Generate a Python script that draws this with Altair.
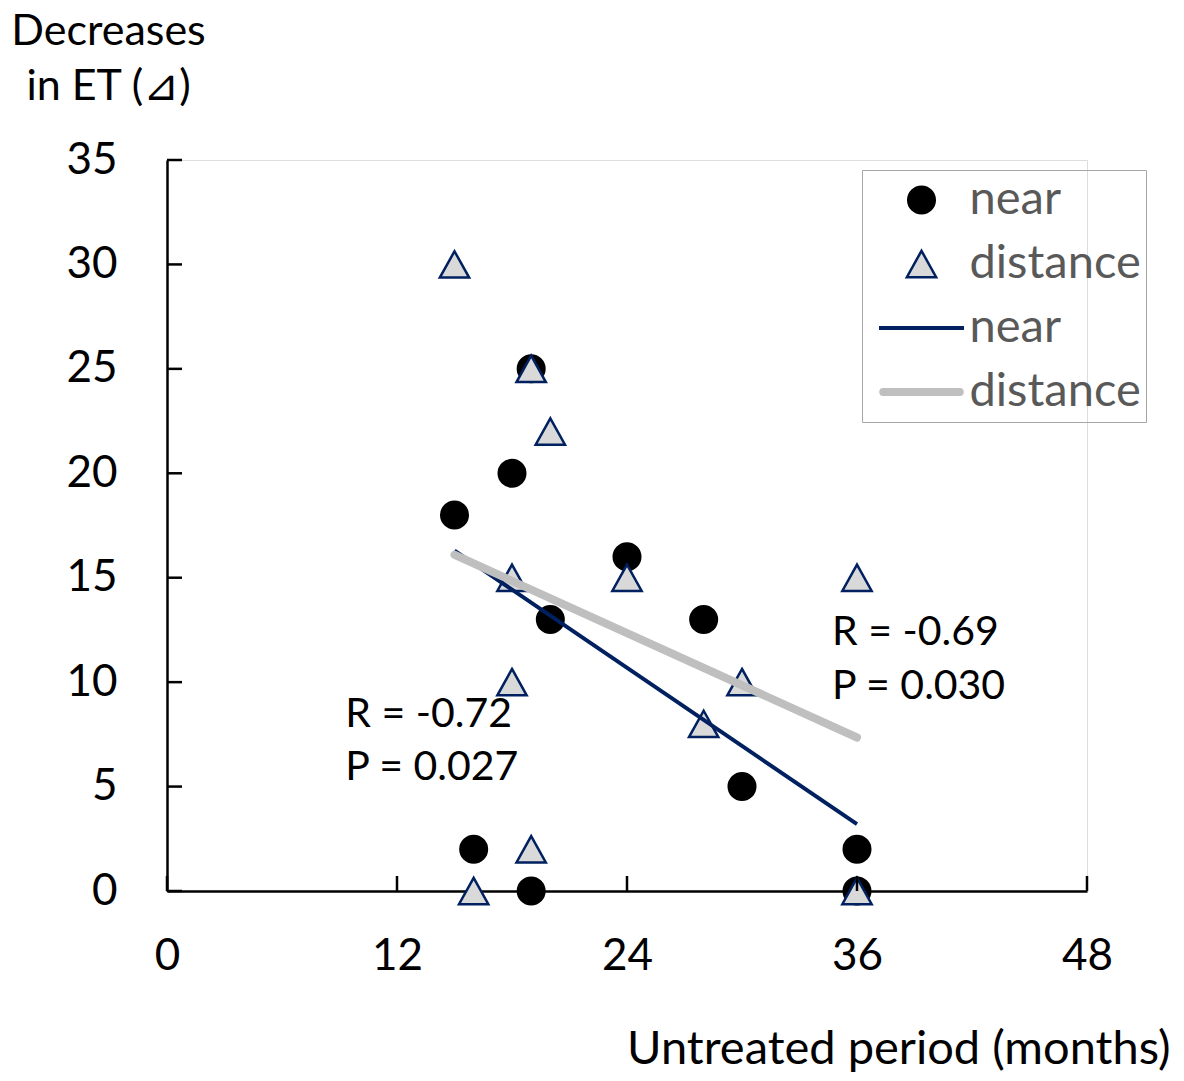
import altair as alt
import pandas as pd

# ---- data ----
near_x = [15, 16, 18, 19, 19, 20, 24, 28, 30, 36, 36]
near_y = [18, 2, 20, 25, 0, 13, 16, 13, 5, 2, 0]
dist_x = [15, 16, 18, 18, 19, 19, 20, 24, 28, 30, 36, 36]
dist_y = [30, 0, 15, 10, 25, 2, 22, 15, 8, 10, 15, 0]

near_fit_x = [15, 36]
near_fit_y = [16.3, 3.2]
dist_fit_x = [15, 36]
dist_fit_y = [16.1, 7.35]

x_ticks = [0, 12, 24, 36, 48]
y_ticks = [0, 5, 10, 15, 20, 25, 30, 35]

ann_text = ["R = -0.72", "P = 0.027", "R = -0.69", "P = 0.030"]
ann_x = [9.3, 9.3, 34.7, 34.7]
ann_y = [8.45, 5.9, 12.35, 9.77]

entries = ["near", "distance", "near_fit", "distance_fit"]

# ---- styling ----
W, H = 920, 731
FONT = "Lato"
FS = 44
NAVY = "#002060"
GRAY = "#bfbfbf"

CIRCLE = "M0.312,0A0.312,0.312 0 1,1 -0.312,0A0.312,0.312 0 1,1 0.312,0Z"
TRI = "M0,-0.31L0.345,0.31L-0.345,0.31Z"
LINE_N = "M-0.97,-0.02H0.97V0.02H-0.97Z"
LINE_D = "M-0.9,-0.065H0.9A0.065,0.065 0 0,1 0.9,0.065H-0.9A0.065,0.065 0 0,1 -0.9,-0.065Z"

shape_scale = alt.Scale(domain=entries, range=[CIRCLE, TRI, LINE_N, LINE_D])
fill_scale = alt.Scale(domain=entries, range=["#000000", "#d9d9d9", NAVY, GRAY])
stroke_scale = alt.Scale(domain=entries, range=["#000000", NAVY, NAVY, GRAY])

xs = alt.Scale(domain=[0, 48], nice=False, zero=False)
ys = alt.Scale(domain=[0, 35], nice=False, zero=False)

xaxis = alt.Axis(
    values=x_ticks, ticks=False, tickSize=0, grid=False,
    domainColor="black", domainWidth=2.5,
    labelFont=FONT, labelFontSize=FS, labelColor="black", labelPadding=43,
    labelFlush=False,
    title="Untreated period (months)", titleFont=FONT, titleFontSize=47,
    titleFontWeight="normal", titleColor="black",
    titleAlign="right", titleX=1003, titleY=158, titleBaseline="middle",
)
yaxis = alt.Axis(
    values=y_ticks, ticks=False, tickSize=0, grid=False,
    domainColor="black", domainWidth=2.5,
    labelFont=FONT, labelFontSize=FS, labelColor="black", labelPadding=50,
    labelFlush=False,
    title=["Decreases", "in ET (⊿)"], titleFont=FONT, titleFontSize=43,
    titleFontWeight="normal", titleColor="black", titleAngle=0,
    titleAlign="center", titleBaseline="alphabetic",
    titleX=-59, titleY=-116, titleLineHeight=55,
)

legend = alt.Legend(
    title=None, orient="none", legendX=695, legendY=10, direction="vertical",
    labelExpr="split(datum.label, '_')[0] + '\u00a0'",
    labelFont=FONT, labelFontSize=47, labelColor="#595959", labelLimit=500,
    symbolSize=7225, symbolStrokeWidth=2.5, symbolOpacity=1,
    clipHeight=50, rowPadding=14, labelOffset=4, symbolOffset=10.5, padding=5,
    strokeColor="#a6a6a6",
)

# ---- tables ----
pts = pd.DataFrame({
    "x": near_x + dist_x,
    "y": near_y + dist_y,
    "entry": ["near"] * len(near_x) + ["distance"] * len(dist_x),
})
pts["k"] = range(len(pts))
nf = pd.DataFrame({"x": near_fit_x, "y": near_fit_y, "entry": "near_fit"})
df = pd.DataFrame({"x": dist_fit_x, "y": dist_fit_y, "entry": "distance_fit"})
ann = pd.DataFrame({"x": ann_x, "y": ann_y, "t": ann_text})
xt = pd.DataFrame({"x": x_ticks})
yt = pd.DataFrame({"y": y_ticks})

points = alt.Chart(pts).mark_point(
    filled=True, size=7225, opacity=1, strokeWidth=2.5
).encode(
    x=alt.X("x:Q", scale=xs, axis=xaxis),
    y=alt.Y("y:Q", scale=ys, axis=yaxis),
    shape=alt.Shape("entry:N", scale=shape_scale, legend=legend),
    fill=alt.Fill("entry:N", scale=fill_scale),
    stroke=alt.Stroke("entry:N", scale=stroke_scale),
    order=alt.Order("k:Q"),
)

near_line = alt.Chart(nf).mark_line(strokeWidth=4).encode(
    x=alt.X("x:Q", scale=xs),
    y=alt.Y("y:Q", scale=ys),
    stroke=alt.Stroke("entry:N", scale=stroke_scale),
)
dist_line = alt.Chart(df).mark_line(strokeWidth=8, strokeCap="round").encode(
    x=alt.X("x:Q", scale=xs),
    y=alt.Y("y:Q", scale=ys),
    stroke=alt.Stroke("entry:N", scale=stroke_scale),
)

xticks = alt.Chart(xt).mark_rule(color="black", strokeWidth=2.5).encode(
    x=alt.X("x:Q", scale=xs), y=alt.value(H), y2=alt.value(H - 15)
)
yticks = alt.Chart(yt).mark_rule(color="black", strokeWidth=2.5).encode(
    y=alt.Y("y:Q", scale=ys), x=alt.value(0), x2=alt.value(15)
)

text = alt.Chart(ann).mark_text(
    align="left", baseline="middle", font=FONT, fontSize=41, color="black"
).encode(
    x=alt.X("x:Q", scale=xs),
    y=alt.Y("y:Q", scale=ys),
    text="t:N",
)

chart = alt.layer(points, near_line, dist_line, xticks, yticks, text).properties(
    width=W, height=H,
    autosize=alt.AutoSizeParams(type="none"),
    padding={"left": 159, "top": 152, "right": 89, "bottom": 182},
).configure_view(stroke=None).configure(font=FONT)

chart.save("out.html", embed_options={"renderer": "svg", "actions": False})
